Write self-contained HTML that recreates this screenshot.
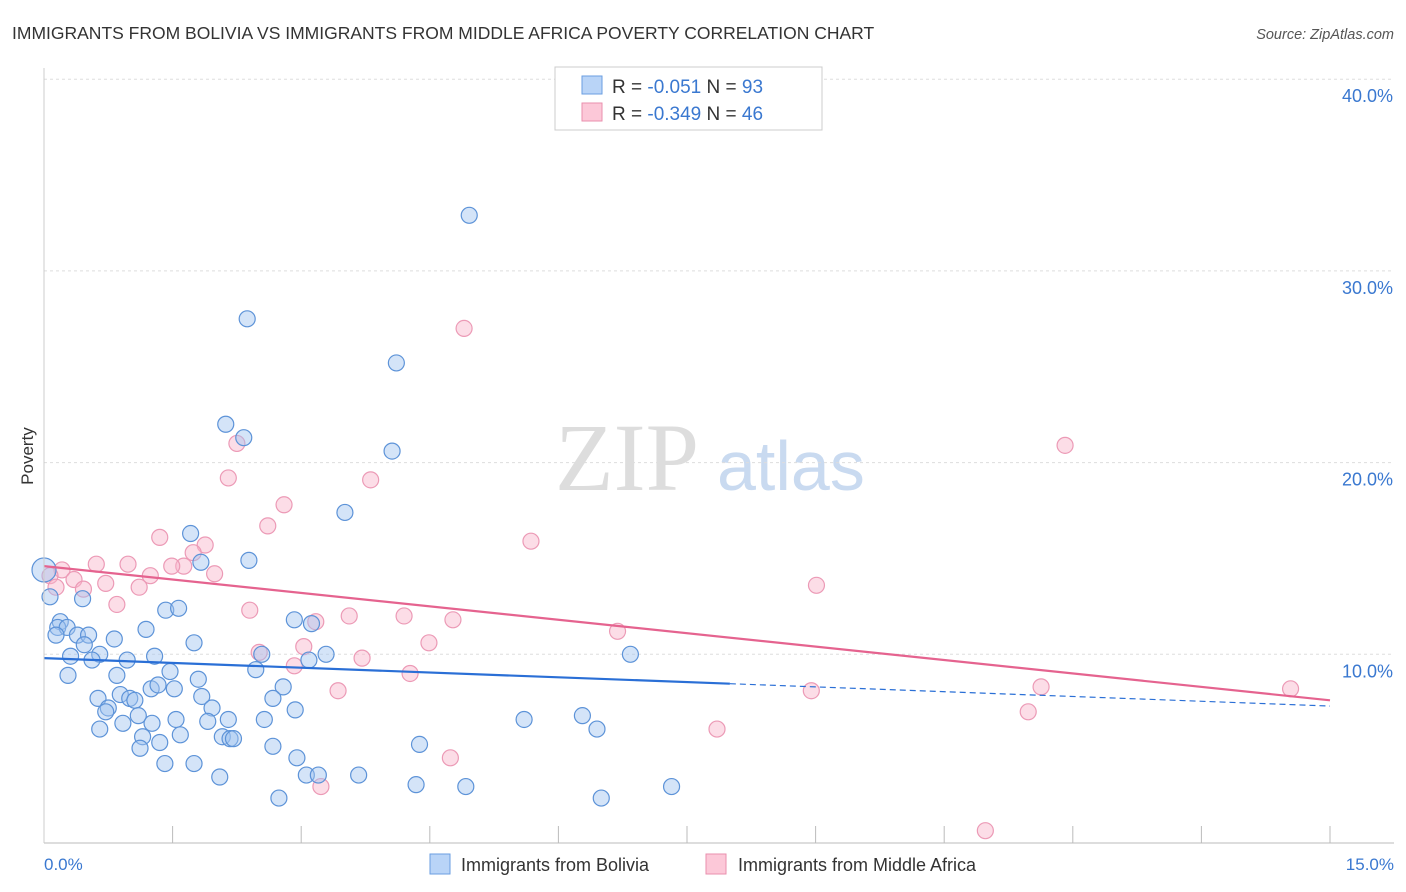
<!DOCTYPE html>
<html><head><meta charset="utf-8"><style>
body{margin:0;background:#fff;font-family:"Liberation Sans",sans-serif;}
svg{display:block}
</style></head><body>
<svg id="chart" width="1406" height="892">
<text x="12" y="39" font-size="17.5" fill="#333">IMMIGRANTS FROM BOLIVIA VS IMMIGRANTS FROM MIDDLE AFRICA POVERTY CORRELATION CHART</text>
<text x="1394" y="39" font-size="14.5" fill="#555" font-style="italic" text-anchor="end">Source: ZipAtlas.com</text>
<text x="33" y="456" font-size="17" fill="#333" transform="rotate(-90 33 456)" text-anchor="middle">Poverty</text>
<text x="555" y="490" font-size="96" fill="#ddd" font-family="Liberation Serif,serif">ZIP</text>
<text x="717" y="490" font-size="70" fill="#c9daf0">atlas</text>
<g id="grid"></g><g id="pts"></g><g id="lines"></g>
<line x1="44" y1="843" x2="1394" y2="843" stroke="#bbb"/>
<line x1="44" y1="68" x2="44" y2="843" stroke="#ccc"/>
<text x="44" y="870" font-size="17" fill="#3a78d0">0.0%</text>
<text x="1394" y="870" font-size="17" fill="#3a78d0" text-anchor="end">15.0%</text>
<g>
<rect x="555" y="67" width="267" height="63" fill="#fff" stroke="#ccc"/>
<rect x="582" y="76" width="20" height="18" fill="#b9d4f7" stroke="#6a9ee0"/>
<rect x="582" y="103" width="20" height="18" fill="#fcc8d8" stroke="#ea8fae"/>
<text x="612" y="93" font-size="19" fill="#333">R = <tspan fill="#3a78d0">-0.051</tspan>   N = <tspan fill="#3a78d0">93</tspan></text>
<text x="612" y="120" font-size="19" fill="#333">R = <tspan fill="#3a78d0">-0.349</tspan>   N = <tspan fill="#3a78d0">46</tspan></text>
</g>
<g>
<rect x="430" y="854" width="20" height="20" fill="#b9d4f7" stroke="#6a9ee0"/>
<text x="461" y="871" font-size="18" fill="#333">Immigrants from Bolivia</text>
<rect x="706" y="854" width="20" height="20" fill="#fcc8d8" stroke="#ea8fae"/>
<text x="738" y="871" font-size="18" fill="#333">Immigrants from Middle Africa</text>
</g>
</svg>
<script>
const yTicks=[10,20,30,40];
const yTickLabels=["10.0%","20.0%","30.0%","40.0%"];
const xTicks=[0,1.5,3,4.5,6,7.5,9,10.5,12,13.5,15];
const boliviaX=[4.96,2.37,4.11,2.12,2.33,4.06,3.51,1.71,2.39,1.83,0,0.07,0.45,1.42,1.57,1.19,0.19,0.16,0.27,0.39,0.52,0.14,0.82,2.92,3.12,1.75,0.47,0.65,0.56,0.31,0.97,1.29,3.29,2.54,3.09,6.84,0.28,0.85,1.47,2.47,1.80,1.25,1.33,1.52,2.79,0.63,0.89,1.00,1.06,1.84,2.67,0.75,0.72,1.96,2.93,1.10,0.92,1.26,1.54,1.91,2.15,2.57,0.65,1.59,2.08,2.17,2.21,1.15,1.35,1.12,2.67,5.60,6.28,6.45,4.38,2.95,1.41,1.75,3.06,3.20,3.67,2.05,4.34,4.92,7.32,2.74,6.50];
const boliviaY=[32.9,27.5,25.2,22.0,21.3,20.6,17.4,16.3,14.9,14.8,14.4,13.0,12.9,12.3,12.4,11.3,11.7,11.4,11.4,11.0,11.0,11.0,10.8,11.8,11.6,10.6,10.5,10.0,9.7,9.9,9.7,9.9,10.0,10.0,9.7,10.0,8.9,8.9,9.1,9.2,8.7,8.2,8.4,8.2,8.3,7.7,7.9,7.7,7.6,7.8,7.7,7.2,7.0,7.2,7.1,6.8,6.4,6.4,6.6,6.5,6.6,6.6,6.1,5.8,5.7,5.6,5.6,5.7,5.4,5.1,5.2,6.6,6.8,6.1,5.3,4.6,4.3,4.3,3.7,3.7,3.7,3.6,3.2,3.1,3.1,2.5,2.5];
const africaX=[4.90,2.25,11.91,2.15,3.81,2.80,2.61,5.68,1.35,1.88,1.74,0.61,0.98,1.63,1.49,0.21,0.07,0.35,1.24,1.99,0.72,0.46,1.11,0.14,0.85,2.40,4.20,3.56,3.17,4.77,6.69,4.49,3.03,2.51,3.71,2.92,4.27,9.01,3.43,8.95,11.63,14.54,11.48,7.85,4.74,3.23,10.98];
const africaY=[27.0,21.0,20.9,19.2,19.1,17.8,16.7,15.9,16.1,15.7,15.3,14.7,14.7,14.6,14.6,14.4,14.1,13.9,14.1,14.2,13.7,13.4,13.5,13.5,12.6,12.3,12.0,12.0,11.7,11.8,11.2,10.6,10.4,10.1,9.8,9.4,9.0,13.6,8.1,8.1,8.3,8.2,7.0,6.1,4.6,3.1,0.8];
const boliviaTrend=[9.8,7.3];
const africaTrend=[14.6,7.6];
const NS="http://www.w3.org/2000/svg";
const xs=v=>44+v*(1330-44)/15;
const ys=v=>846-v*19.17;
function mk(t,a,p){const e=document.createElementNS(NS,t);for(const k in a)e.setAttribute(k,a[k]);p.appendChild(e);return e;}
const grid=document.getElementById('grid');
yTicks.forEach((t,i)=>{
 const l=mk('line',{x1:44,x2:1394,y1:ys(t),y2:ys(t),stroke:'#ddd','stroke-dasharray':'3,3'},grid);
 
 
 const tx=mk('text',{x:1393,y:ys(t)+23,'font-size':18,fill:'#3a78d0','text-anchor':'end'},grid);
 tx.textContent=yTickLabels[i];
 
 
});
xTicks.forEach(t=>{
 const l=mk('line',{x1:xs(t),x2:xs(t),y1:826,y2:843,stroke:'#bbb'},grid);
 
 
});
const pts=document.getElementById('pts');
africaX.forEach((x,i)=>{
 const c=mk('circle',{cx:xs(x),cy:ys(africaY[i]),r:8,fill:'rgba(248,180,202,0.45)',stroke:'#ec9ab6','stroke-width':1.2},pts);
 
 
});
boliviaX.forEach((x,i)=>{
 const c=mk('circle',{cx:xs(x),cy:ys(boliviaY[i]),r:i==10?12:8,fill:'rgba(160,196,240,0.45)',stroke:'#5d93d8','stroke-width':1.2},pts);
 
 
});
const lines=document.getElementById('lines');
const bAt=x=>boliviaTrend[0]+(boliviaTrend[1]-boliviaTrend[0])*x/15;
let l1=mk('line',{x1:xs(0),y1:ys(bAt(0)),x2:xs(8),y2:ys(bAt(8)),stroke:'#2a6fd6','stroke-width':2.2},lines);


let l2=mk('line',{x1:xs(8),y1:ys(bAt(8)),x2:xs(15),y2:ys(bAt(15)),stroke:'#2a6fd6','stroke-width':1.2,'stroke-dasharray':'6,4'},lines);


let l3=mk('line',{x1:xs(0),y1:ys(africaTrend[0]),x2:xs(15),y2:ys(africaTrend[1]),stroke:'#e5638f','stroke-width':2.2},lines);


</script>
</body></html>
